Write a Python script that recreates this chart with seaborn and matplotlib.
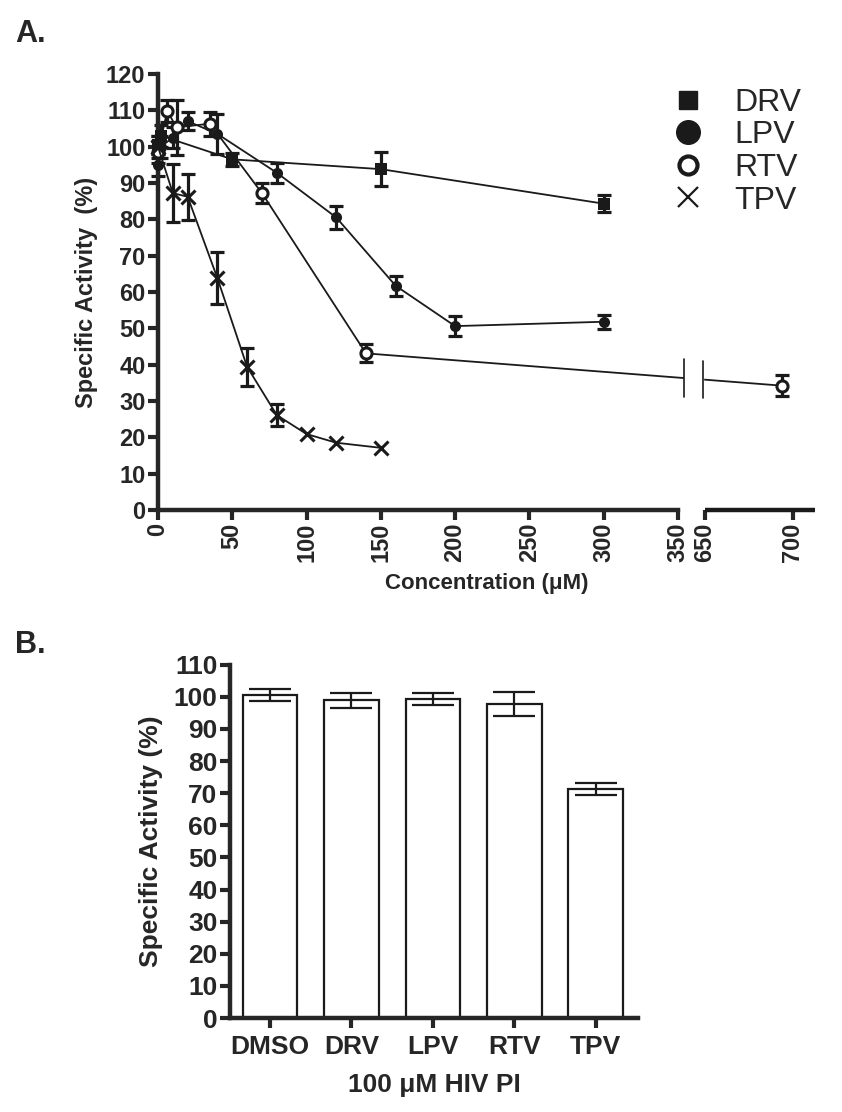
import numpy as np
import matplotlib
matplotlib.use("Agg")
import matplotlib.pyplot as plt
from matplotlib import font_manager
from matplotlib.lines import Line2D
from matplotlib.patches import Rectangle
import seaborn as sns

# ---- Panel A data ----
drv_conc = [0, 2, 50, 150, 300]
drv_act = [100.5, 103, 96.5, 93.8, 84.3]
drv_err = [2.5, 3.0, 1.8, 4.6, 2.3]

lpv_conc = [0, 2, 10, 20, 40, 80, 120, 160, 200, 300]
lpv_act = [95, 100, 102.5, 107, 103.5, 92.8, 80.5, 61.7, 50.6, 51.8]
lpv_err = [3.0, 3.0, 3.0, 2.5, 5.5, 2.7, 3.2, 2.7, 2.7, 1.9]

rtv_conc = [0, 6.25, 12.5, 35, 70, 140, 694]
rtv_act = [98.5, 109.8, 105.3, 106.3, 87.2, 43.1, 34.2]
rtv_err = [3.0, 3.0, 7.6, 3.3, 2.8, 2.5, 2.9]

tpv_conc = [0, 10, 20, 40, 60, 80, 100, 120, 150]
tpv_act = [100, 87.2, 86.2, 63.8, 39.4, 26.1, 20.9, 18.5, 17.1]
tpv_err = [3.0, 8.0, 6.3, 7.1, 5.2, 3.0, 0, 0, 0]

x_ticks = [0, 50, 100, 150, 200, 250, 300, 350, 650, 700]
y_ticks_a = list(range(0, 121, 10))

# ---- Panel B data ----
pi_names = ["DMSO", "DRV", "LPV", "RTV", "TPV"]
pi_act = [100.5, 98.9, 99.4, 97.8, 71.3]
pi_err = [1.9, 2.4, 1.8, 3.7, 1.9]
y_ticks_b = list(range(0, 111, 10))

sns.set_theme(style="ticks")
installed = {f.name for f in font_manager.fontManager.ttflist}
narrow = "Liberation Sans Narrow" if "Liberation Sans Narrow" in installed else "Liberation Sans"
plt.rcParams["font.family"] = ["Liberation Sans", "DejaVu Sans"]
plt.rcParams["axes.linewidth"] = 3.2

fig = plt.figure(figsize=(8.42, 11.12), dpi=100)

# broken x axis: 0-350 and 650-712 drawn on one piecewise-linear scale
K1, GAP, K2 = 520 / 350, 27.0, 1.76


def fwd(x):
    x = np.asarray(x, dtype=float)
    return np.where(x <= 350, x * K1,
                    np.where(x <= 650, 350 * K1 + (x - 350) * GAP / 300,
                             350 * K1 + GAP + (x - 650) * K2))


def inv(u):
    u = np.asarray(u, dtype=float)
    a = 350 * K1
    return np.where(u <= a, u / K1,
                    np.where(u <= a + GAP, 350 + (u - a) * 300 / GAP,
                             650 + (u - a - GAP) / K2))


axA = fig.add_axes([0.1876, 0.5414, 0.7803, 0.3921])
axA.set_xscale("function", functions=(fwd, inv))

series = [
    ("DRV", drv_conc, drv_act, drv_err, dict(marker="s", ms=8, mfc="k", mew=0)),
    ("LPV", lpv_conc, lpv_act, lpv_err, dict(marker="o", ms=8, mfc="k", mew=0)),
    ("RTV", rtv_conc, rtv_act, rtv_err, dict(marker="o", ms=8, mfc="white", mew=2.2)),
    ("TPV", tpv_conc, tpv_act, tpv_err, dict(marker="x", ms=10, mew=2.2)),
]
for name, c, a, e, mk in series:
    sns.lineplot(x=c, y=a, color="k", lw=1.3, mec="k", clip_on=False,
                 errorbar=None, ax=axA, zorder=3, **mk)
    c, a, e = np.array(c), np.array(a), np.array(e)
    keep = e > 0
    axA.errorbar(c[keep], a[keep], yerr=e[keep], fmt="none", ecolor="k",
                 elinewidth=2.3, capsize=5, capthick=2.3, clip_on=False, zorder=2)

axA.set_xlim(0, 712.5)
axA.set_ylim(0, 120)
axA.set_xticks(x_ticks)
axA.set_xticklabels([str(t) for t in x_ticks], rotation=90)
axA.set_yticks(y_ticks_a)
sns.despine(ax=axA)
axA.spines["bottom"].set_bounds(0, 350)
axA.plot([650, 712.5], [0, 0], color="k", lw=3.2, clip_on=False,
         transform=axA.get_xaxis_transform(), solid_capstyle="butt")
axA.tick_params(length=7, width=3, pad=2)
for lab in axA.get_xticklabels() + axA.get_yticklabels():
    lab.set_fontfamily(narrow)
    lab.set_fontweight("bold")
    lab.set_fontsize(17)

# break marks on the RTV line
xm = inv(fwd(350) + GAP * np.array([0.22, 0.93]))
ym = np.interp(fwd(xm), fwd(rtv_conc), rtv_act)
axA.add_patch(Rectangle((xm[0], ym.mean() - 3), xm[1] - xm[0], 6,
                        color="white", zorder=4, clip_on=False))
for xv, yv in zip(xm, ym):
    axA.plot([xv, xv], [yv - 5.2, yv + 5.2], color="k", lw=1.2, zorder=5, clip_on=False)

axA.set_xlabel("Concentration (μM)", fontsize=16, fontweight="bold", labelpad=8)
axA.set_ylabel("Specific Activity  (%)", fontsize=17, fontweight="bold", labelpad=6)

handles = [
    Line2D([], [], ls="none", marker="s", ms=13, color="k"),
    Line2D([], [], ls="none", marker="o", ms=17, color="k"),
    Line2D([], [], ls="none", marker="o", ms=13, mfc="white", mec="k", mew=3),
    Line2D([], [], ls="none", marker="x", ms=15, color="k", mew=1.6),
]
axA.legend(handles, ["DRV", "LPV", "RTV", "TPV"], loc="upper left",
           bbox_to_anchor=(0.782, 0.968), frameon=False, fontsize=23,
           handlelength=1.0, handletextpad=0.97, labelspacing=0.08,
           borderpad=0, borderaxespad=0)

# ---- Panel B ----
axB = fig.add_axes([0.2732, 0.0845, 0.4846, 0.3177])
sns.barplot(x=pi_names, y=pi_act, color="white", edgecolor="k", linewidth=1.6,
            width=0.67, errorbar=None, ax=axB)
axB.errorbar(np.arange(len(pi_names)), pi_act, yerr=pi_err, fmt="none",
             ecolor="k", elinewidth=1.6, capsize=15, capthick=1.6, zorder=3)
axB.set_xlim(-0.49, 4.52)
axB.set_ylim(0, 110)
axB.set_yticks(y_ticks_b)
sns.despine(ax=axB)
axB.tick_params(length=7, width=3, pad=2)
for lab in axB.get_xticklabels() + axB.get_yticklabels():
    lab.set_fontfamily(narrow)
    lab.set_fontweight("bold")
    lab.set_fontsize(19)
axB.tick_params(axis="x", pad=5)
axB.set_xlabel("100 μM HIV PI", fontsize=19, fontweight="bold", labelpad=10)
axB.set_ylabel("Specific Activity (%)", fontsize=19, fontweight="bold", labelpad=8)

fig.text(0.018, 0.962, "A.", fontsize=22, fontweight="bold")
fig.text(0.018, 0.413, "B.", fontsize=22, fontweight="bold")

fig.savefig("out.png", dpi=100)
